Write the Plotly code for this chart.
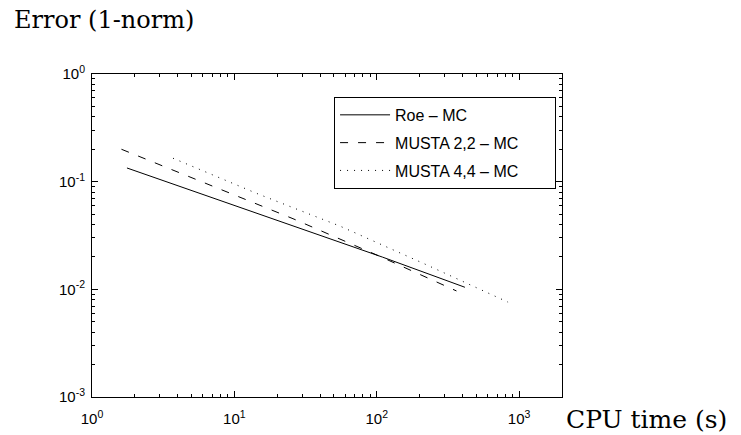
import plotly.graph_objects as go

# Data
roe_t = [1.76, 7.0, 28.0, 110.0, 416.0]
roe_err = [0.134, 0.0706, 0.0377, 0.0199, 0.01045]

musta22_t = [1.61, 6.45, 25.8, 102.0, 363.0]
musta22_err = [0.200, 0.0948, 0.0453, 0.0206, 0.00966]

musta44_t = [3.71, 14.4, 55.6, 215.0, 836.0]
musta44_err = [0.165, 0.0776, 0.0385, 0.0173, 0.0076]

series_names = ["Roe – MC", "MUSTA 2,2 – MC", "MUSTA 4,4 – MC"]

x_tickvals = [1, 10, 100, 1000]
x_ticktext = ["10<sup>0</sup>", "10<sup>1</sup>", "10<sup>2</sup>", "10<sup>3</sup>"]
y_tickvals = [0.001, 0.01, 0.1, 1]
y_ticktext = ["10<sup>-3</sup>", "10<sup>-2</sup>", "10<sup>-1</sup>", "10<sup>0</sup>"]

x_minor = [m * d for d in [1, 10, 100, 1000] for m in range(2, 10) if m * d <= 2000]
y_minor = [m * d for d in [0.001, 0.01, 0.1] for m in range(2, 10)]

pad = "\u00a0" * 7

fig = go.Figure()
fig.add_trace(go.Scatter(x=roe_t, y=roe_err, mode="lines", name=series_names[0] + pad,
                         line=dict(color="black", width=1), legendgroup="a"))
fig.add_trace(go.Scatter(x=musta22_t, y=musta22_err, mode="lines", name=series_names[1] + pad,
                         line=dict(color="black", width=1, dash="8px,10px"), legendgroup="b"))
fig.add_trace(go.Scatter(x=musta44_t, y=musta44_err, mode="lines", name=series_names[2] + pad,
                         line=dict(color="black", width=1, dash="1px,6px"), legendgroup="c"))

axis_common = dict(
    showline=True, linecolor="black", linewidth=1, mirror="ticks",
    ticks="inside", ticklen=6, tickcolor="black", tickwidth=1,
    showgrid=False, zeroline=False, automargin=False,
    tickfont=dict(family="Liberation Sans, Arial, sans-serif", size=15, color="black"),
)

fig.update_xaxes(type="log", range=[0, 3.30103], tickvals=x_tickvals, ticktext=x_ticktext,
                 ticklabelstandoff=8,
                 minor=dict(ticks="inside", ticklen=3, tickcolor="black", tickwidth=1,
                            showgrid=False, tickmode="array", tickvals=x_minor),
                 **axis_common)
fig.update_yaxes(type="log", range=[-3, 0], tickvals=y_tickvals, ticktext=y_ticktext,
                 ticklabelstandoff=3,
                 minor=dict(ticks="inside", ticklen=3, tickcolor="black", tickwidth=1,
                            showgrid=False, tickmode="array", tickvals=y_minor),
                 **axis_common)

fig.update_layout(
    width=741, height=435,
    margin=dict(l=92, r=179, t=74, b=38, autoexpand=False),
    plot_bgcolor="white", paper_bgcolor="white",
    font=dict(family="Liberation Sans, Arial, sans-serif", color="black"),
    showlegend=True,
    legend=dict(
        x=0.515, y=0.929, xanchor="left", yanchor="top",
        bordercolor="black", borderwidth=1, bgcolor="white",
        font=dict(size=16, family="Liberation Sans, Arial, sans-serif", color="black"),
        tracegroupgap=4, itemwidth=50,
    ),
    annotations=[
        dict(text="Error (1-norm)", xref="paper", yref="paper", x=-0.17, y=1.167,
             xanchor="left", yanchor="middle", showarrow=False,
             font=dict(family="DejaVu Serif, serif", size=24, color="black")),
        dict(text="CPU time (s)", xref="paper", yref="paper", x=1.005, y=-0.071,
             xanchor="left", yanchor="middle", showarrow=False,
             font=dict(family="DejaVu Serif, serif", size=25, color="black")),
    ],
)

fig.write_html("out.html", config={"displayModeBar": False},
               post_script="document.body.style.margin='0';")
